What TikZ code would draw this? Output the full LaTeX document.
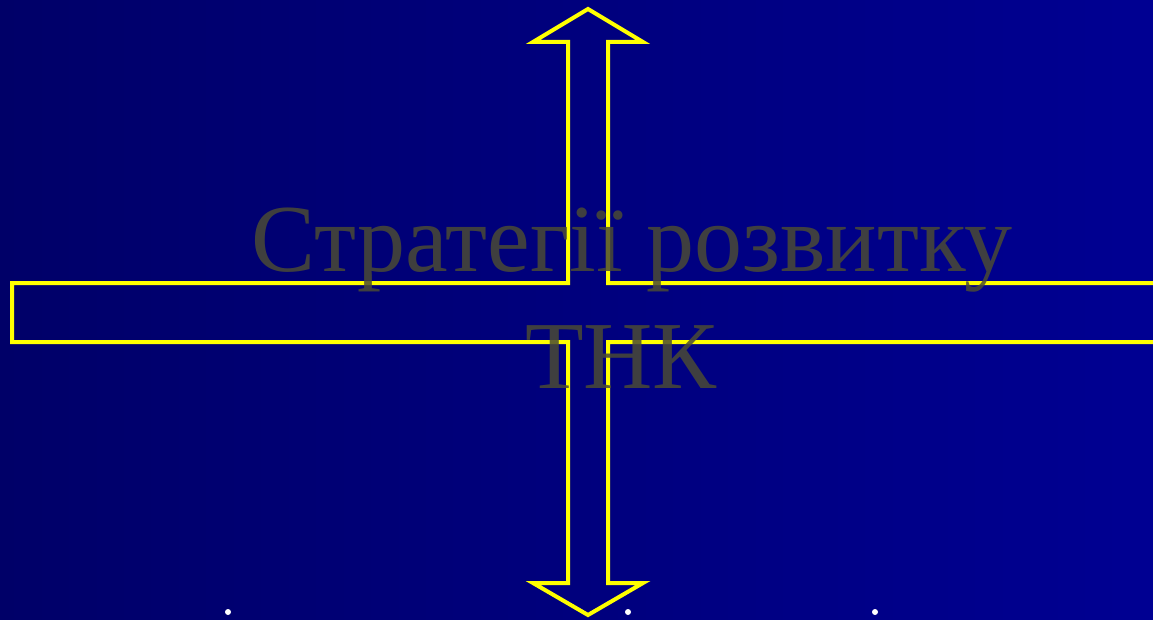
\documentclass[tikz,border=0pt]{standalone}
\usepackage{fontspec}
\setmainfont{Liberation Serif}
\definecolor{bgleft}{RGB}{0,0,104}
\definecolor{bgright}{RGB}{0,0,146}
\definecolor{arrowyellow}{RGB}{255,255,0}
\definecolor{titlegrey}{RGB}{75,75,53}
\tikzset{
  crossshape/.style={draw=arrowyellow, line width=4pt, line join=miter},
  titletext/.style={text=titlegrey, text opacity=0.85, inner sep=0pt, anchor=base,
    font=\fontsize{96}{116}\selectfont},
  whitedot/.style={circle, fill=white, inner sep=0pt, minimum size=6pt}
}
\begin{document}
\begin{tikzpicture}[x=1pt,y=-1pt]
\useasboundingbox (0,0) rectangle (1153,620);
\shade[left color=bgleft, right color=bgright] (0,0) rectangle (1153,620);
\draw[crossshape] (12,283) -- (568,283) -- (568,42) -- (533,42) -- (588,9) -- (643,42)
  -- (608,42) -- (608,283) -- (1170,283) -- (1170,342) -- (608,342) -- (608,583)
  -- (643,583) -- (588,615) -- (533,583) -- (568,583) -- (568,342) -- (12,342) -- cycle;
\node[titletext] (line1) at (632,272) {Стратегії розвитку};
\node[titletext] (line2) at (621,388) {ТНК};
\node[whitedot] (d1) at (228,612) {};
\node[whitedot] (d2) at (628,612) {};
\node[whitedot] (d3) at (875,612) {};
\end{tikzpicture}
\end{document}
